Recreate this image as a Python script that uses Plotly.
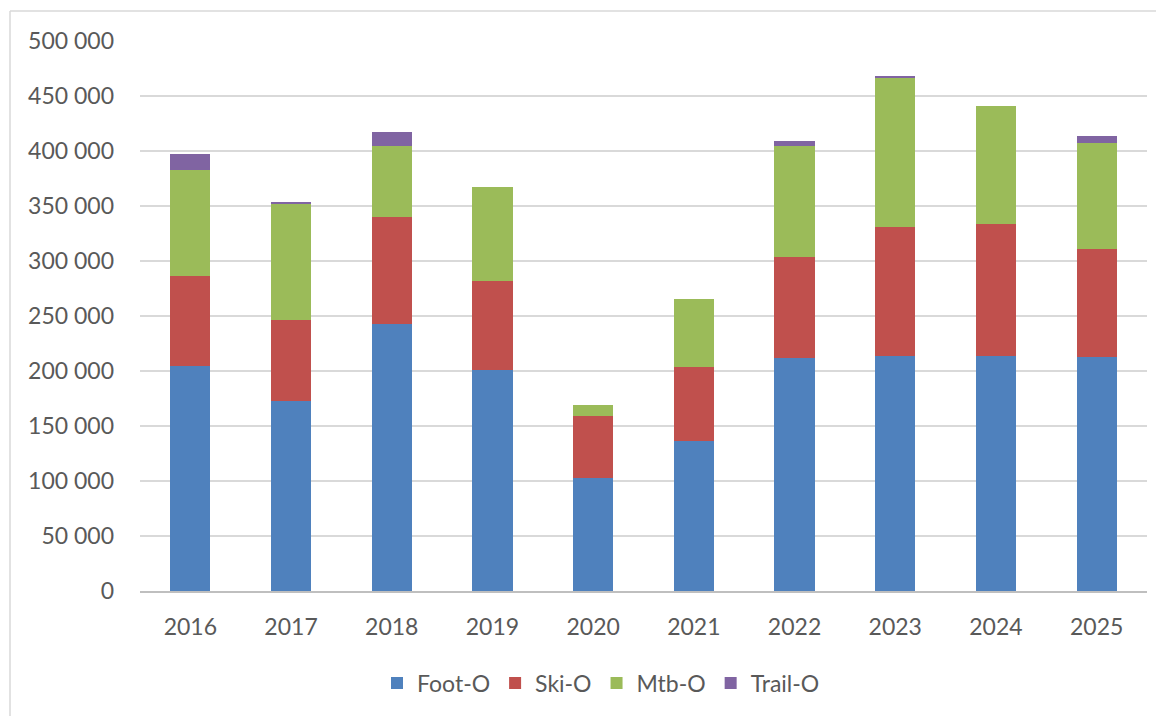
import plotly.graph_objects as go

years = ["2016", "2017", "2018", "2019", "2020", "2021", "2022", "2023", "2024", "2025"]
foot_o = [204300, 172700, 243000, 200900, 103000, 136600, 211500, 213900, 213900, 212700]
ski_o = [81800, 73700, 96700, 80600, 56100, 66800, 92100, 116700, 120000, 97900]
mtb_o = [96600, 105100, 65100, 86100, 10300, 61800, 101200, 136400, 107300, 96700]
trail_o = [14300, 2100, 12200, 0, 0, 0, 4000, 1500, 0, 6000]

series = [
    ("Foot-O", foot_o, "#4F81BD"),
    ("Ski-O", ski_o, "#C0504D"),
    ("Mtb-O", mtb_o, "#9BBB59"),
    ("Trail-O", trail_o, "#8064A2"),
]

fig = go.Figure()
for name, vals, color in series:
    fig.add_trace(go.Bar(x=years, y=vals, name=name, marker_color=color,
                         marker_line_width=0))

L, T, W, H = 132, 33, 1007, 550
font_family = "Lato, 'Open Sans', sans-serif"
fig.update_layout(
    barmode="stack",
    bargap=0.6,
    width=1164, height=716,
    margin=dict(l=L, r=1164 - L - W, t=T, b=716 - T - H),
    paper_bgcolor="white",
    plot_bgcolor="white",
    separators=". ",
    font=dict(family=font_family, size=23, color="#595959"),
    legend=dict(orientation="h", x=(593 - L) / W, xanchor="center", y=(T + H - 675) / H, yanchor="middle",
                font=dict(size=23, color="#595959"), traceorder="normal",
                itemwidth=30),
    yaxis=dict(range=[0, 500000], dtick=50000, tickformat=",d",
               showgrid=True, gridcolor="#d9d9d9", gridwidth=1.5,
               zeroline=False, showline=False, ticks=""),
    xaxis=dict(showline=True, linecolor="#bfbfbf", linewidth=1.5, ticks="",
               showgrid=False),
    shapes=[
        dict(type="line", xref="paper", yref="paper",
             x0=(2 - L) / W, x1=1.05, y0=(T + H - 3) / H, y1=(T + H - 3) / H,
             line=dict(color="#d9d9d9", width=1.5)),
        dict(type="line", xref="paper", yref="paper",
             x0=(2 - L) / W, x1=(2 - L) / W, y0=(T + H - 3) / H, y1=-0.3,
             line=dict(color="#d9d9d9", width=1.5)),
    ],
)
fig.update_yaxes(ticklabelstandoff=25)
fig.update_xaxes(ticklabelstandoff=15)

fig.write_html("out.html")
